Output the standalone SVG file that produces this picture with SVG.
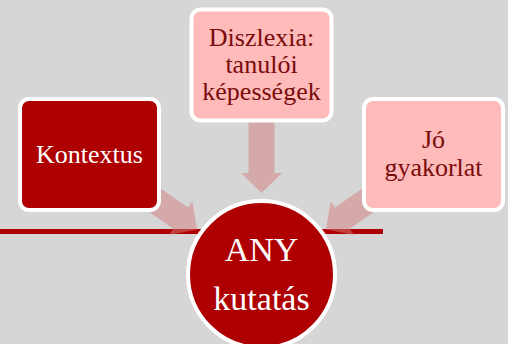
<svg xmlns="http://www.w3.org/2000/svg" width="508" height="344" viewBox="0 0 508 344">
<style>
.red{fill:#ae0000;stroke:#ffffff;stroke-width:4}
.pink{fill:#ffbaba;stroke:#ffffff;stroke-width:4}
.arr{fill:#d37b7b;fill-opacity:0.5}
.tw{font-family:"Liberation Serif","Times New Roman",serif;fill:#ffffff;text-anchor:middle}
.td{font-family:"Liberation Serif","Times New Roman",serif;fill:#7a0c0c;text-anchor:middle}
</style>
<rect x="0" y="0" width="508" height="344" fill="#d6d6d6"/>
<rect x="0" y="229" width="383" height="5" fill="#ae0000"/>
<g id="connectors">
<polygon class="arr" points="248.5,118 274.5,118 274.5,173 282,173 261.5,193 241,173 248.5,173"/>
<polygon class="arr" points="115.7,188.8 130.5,167.4 188,207.4 192.3,201.3 197,229.5 168.9,234.9 173.2,228.8"/>
<polygon class="arr" points="407.3,188.8 392.5,167.4 335,207.4 330.7,201.3 326,229.5 354.1,234.9 349.8,228.8"/>
</g>
<g id="kontextus">
<rect class="red" x="20" y="99" width="139" height="111" rx="9"/>
<text class="tw" x="89.5" y="163" font-size="26">Kontextus</text>
</g>
<g id="diszlexia">
<rect class="pink" x="191.5" y="9.5" width="140" height="111" rx="9"/>
<text class="td" x="261.5" y="46" font-size="26">Diszlexia:</text>
<text class="td" x="261.5" y="73" font-size="26">tanulói</text>
<text class="td" x="261.5" y="100" font-size="26">képességek</text>
</g>
<g id="jo">
<rect class="pink" x="364" y="99" width="139" height="111" rx="9"/>
<text class="td" x="433.5" y="148" font-size="26">Jó</text>
<text class="td" x="433.5" y="176" font-size="26">gyakorlat</text>
</g>
<g id="any">
<circle class="red" cx="261.5" cy="274.5" r="73.5"/>
<text class="tw" x="261.5" y="261" font-size="34">ANY</text>
<text class="tw" x="261.5" y="310" font-size="34">kutatás</text>
</g>
</svg>
